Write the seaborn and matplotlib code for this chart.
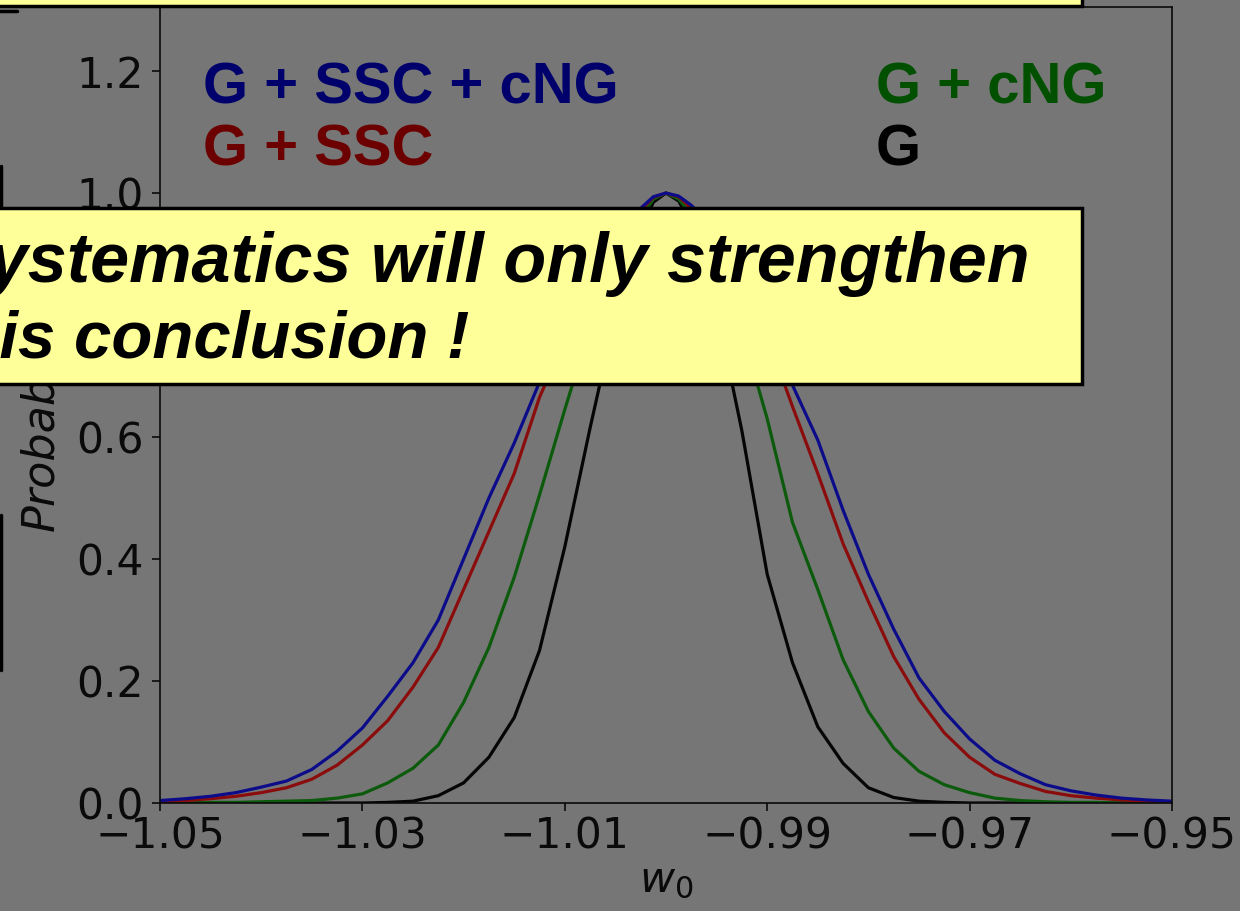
import numpy as np
import matplotlib
matplotlib.use("Agg")
import matplotlib.pyplot as plt
import seaborn as sns
import pandas as pd
from matplotlib.patches import Rectangle
from matplotlib.lines import Line2D

# w0 grid (extra points near the peak)
w0 = [-1.0500, -1.0475, -1.0450, -1.0425, -1.0400, -1.0375, -1.0350, -1.0325,
      -1.0300, -1.0275, -1.0250, -1.0225, -1.0200, -1.0175, -1.0150, -1.0125,
      -1.0100, -1.0075, -1.0050, -1.0025, -1.00125, -1.0000, -0.99875, -0.9975,
      -0.9950, -0.9925, -0.9900, -0.9875, -0.9850, -0.9825, -0.9800, -0.9775,
      -0.9750, -0.9725, -0.9700, -0.9675, -0.9650, -0.9625, -0.9600, -0.9575,
      -0.9550, -0.9525, -0.9500]

p_ssc_cng = [0.004, 0.007, 0.011, 0.017, 0.026, 0.036, 0.055, 0.085,
             0.123, 0.175, 0.230, 0.300, 0.400, 0.500, 0.590, 0.690,
             0.780, 0.860, 0.925, 0.975, 0.994, 1.000, 0.995, 0.980,
             0.935, 0.870, 0.790, 0.685, 0.595, 0.480, 0.375, 0.285,
             0.205, 0.150, 0.105, 0.070, 0.048, 0.030, 0.020, 0.013,
             0.008, 0.005, 0.003]

p_ssc = [0.002, 0.004, 0.007, 0.011, 0.017, 0.025, 0.039, 0.062,
         0.095, 0.135, 0.190, 0.255, 0.350, 0.445, 0.540, 0.665,
         0.760, 0.850, 0.920, 0.972, 0.993, 1.000, 0.994, 0.975,
         0.925, 0.855, 0.765, 0.650, 0.540, 0.425, 0.330, 0.240,
         0.170, 0.115, 0.075, 0.047, 0.032, 0.019, 0.012, 0.008,
         0.005, 0.003, 0.002]

p_cng = [0.000, 0.000, 0.001, 0.001, 0.002, 0.003, 0.004, 0.008,
         0.015, 0.033, 0.057, 0.095, 0.165, 0.255, 0.370, 0.505,
         0.645, 0.780, 0.885, 0.960, 0.990, 1.000, 0.990, 0.965,
         0.890, 0.775, 0.630, 0.460, 0.350, 0.235, 0.150, 0.090,
         0.052, 0.030, 0.017, 0.008, 0.004, 0.002, 0.001, 0.001,
         0.000, 0.000, 0.000]

p_g = [0.000, 0.000, 0.000, 0.000, 0.000, 0.000, 0.000, 0.000,
       0.000, 0.001, 0.003, 0.012, 0.033, 0.075, 0.140, 0.250,
       0.420, 0.615, 0.800, 0.940, 0.985, 1.000, 0.987, 0.950,
       0.810, 0.610, 0.375, 0.230, 0.125, 0.065, 0.025, 0.009,
       0.003, 0.001, 0.000, 0.000, 0.000, 0.000, 0.000, 0.000,
       0.000, 0.000, 0.000]

labels = ["G + SSC + cNG", "G + SSC", "G + cNG", "G"]
line_colors = {"G + SSC + cNG": "#0c0c8a", "G + SSC": "#8a0c0c",
               "G + cNG": "#0c5a0c", "G": "#050505"}
text_colors = {"G + SSC + cNG": "#00006c", "G + SSC": "#6c0000",
               "G + cNG": "#005000", "G": "#000000"}

df = pd.concat([
    pd.DataFrame({"w0": w0, "p": p_ssc_cng, "case": labels[0]}),
    pd.DataFrame({"w0": w0, "p": p_ssc, "case": labels[1]}),
    pd.DataFrame({"w0": w0, "p": p_cng, "case": labels[2]}),
    pd.DataFrame({"w0": w0, "p": p_g, "case": labels[3]}),
])

bg = "#767676"
sns.set_theme(style="ticks")
plt.rcParams["font.family"] = ["DejaVu Sans"]

fig = plt.figure(figsize=(12.4, 9.11), dpi=100, facecolor=bg)
W, H = 1240, 911
ax = fig.add_axes([160 / W, 108 / H, 1012 / W, 796 / H])
ax.set_facecolor(bg)

sns.lineplot(data=df, x="w0", y="p", hue="case", palette=line_colors,
             hue_order=labels[::-1], linewidth=2.3, legend=False, ax=ax,
             estimator=None, sort=True)

ax.set_xlim(-1.05, -0.95)
ax.set_ylim(0, 1.305)
ax.set_xticks([-1.05, -1.03, -1.01, -0.99, -0.97, -0.95])
ax.set_xticklabels(["\u22121.05", "\u22121.03", "\u22121.01", "\u22120.99",
                    "\u22120.97", "\u22120.95"])
ax.set_yticks([0.0, 0.2, 0.4, 0.6, 0.8, 1.0, 1.2])
ax.set_yticklabels(["0.0", "0.2", "0.4", "0.6", "0.8", "1.0", "1.2"])
ax.tick_params(labelsize=30.5, colors="#0a0a0a", length=6, width=1.2)
ax.tick_params(axis="x", pad=3)
ax.tick_params(axis="y", pad=6)
for s in ax.spines.values():
    s.set_color("#0a0a0a")
    s.set_linewidth(1.2)
ax.set_xlabel("$w_0$", fontsize=31, color="#0a0a0a")
ax.xaxis.set_label_coords(0.5, -0.070)
ax.set_ylabel("Probability", fontsize=32, fontstyle="italic", color="#0a0a0a")
ax.yaxis.set_label_coords(-0.096, 0.491)

# series labels inside the plot
lab_font = dict(family="Liberation Sans", weight="bold", fontsize=41.8)
fig.text(203 / W, 1 - 103 / H, labels[0], color=text_colors[labels[0]], **lab_font)
fig.text(203 / W, 1 - 165 / H, labels[1], color=text_colors[labels[1]], **lab_font)
fig.text(876 / W, 1 - 103 / H, labels[2], color=text_colors[labels[2]], **lab_font)
fig.text(876 / W, 1 - 165 / H, labels[3], color=text_colors[labels[3]], **lab_font)

# slide overlay boxes
def px_rect(x0, y0, x1, y1):
    return Rectangle((x0 / W, 1 - y1 / H), (x1 - x0) / W, (y1 - y0) / H,
                     transform=fig.transFigure, facecolor="#ffff99",
                     edgecolor="black", linewidth=2.5, zorder=5)

fig.add_artist(px_rect(-20, -40, 1082, 6))
fig.add_artist(px_rect(-20, 208, 1082, 384))

box_font = dict(family="Liberation Sans", weight="bold", style="italic",
                color="black", zorder=6)
fig.text(-58 / W, 1 - 282 / H, "Systematics will only strengthen",
         fontsize=50.5, **box_font)
fig.text(-64 / W, 1 - 358 / H, "this conclusion !", fontsize=48.3, **box_font)

# edges of other slide elements
for x0, y0, x1, y1 in [(0, 11, 17, 11), (1, 166, 1, 207), (1, 515, 1, 670)]:
    fig.add_artist(Line2D([x0 / W, x1 / W], [1 - y0 / H, 1 - y1 / H],
                          transform=fig.transFigure, color="black",
                          linewidth=2.5, zorder=5))

fig.savefig("out.png", dpi=100, facecolor=bg)
